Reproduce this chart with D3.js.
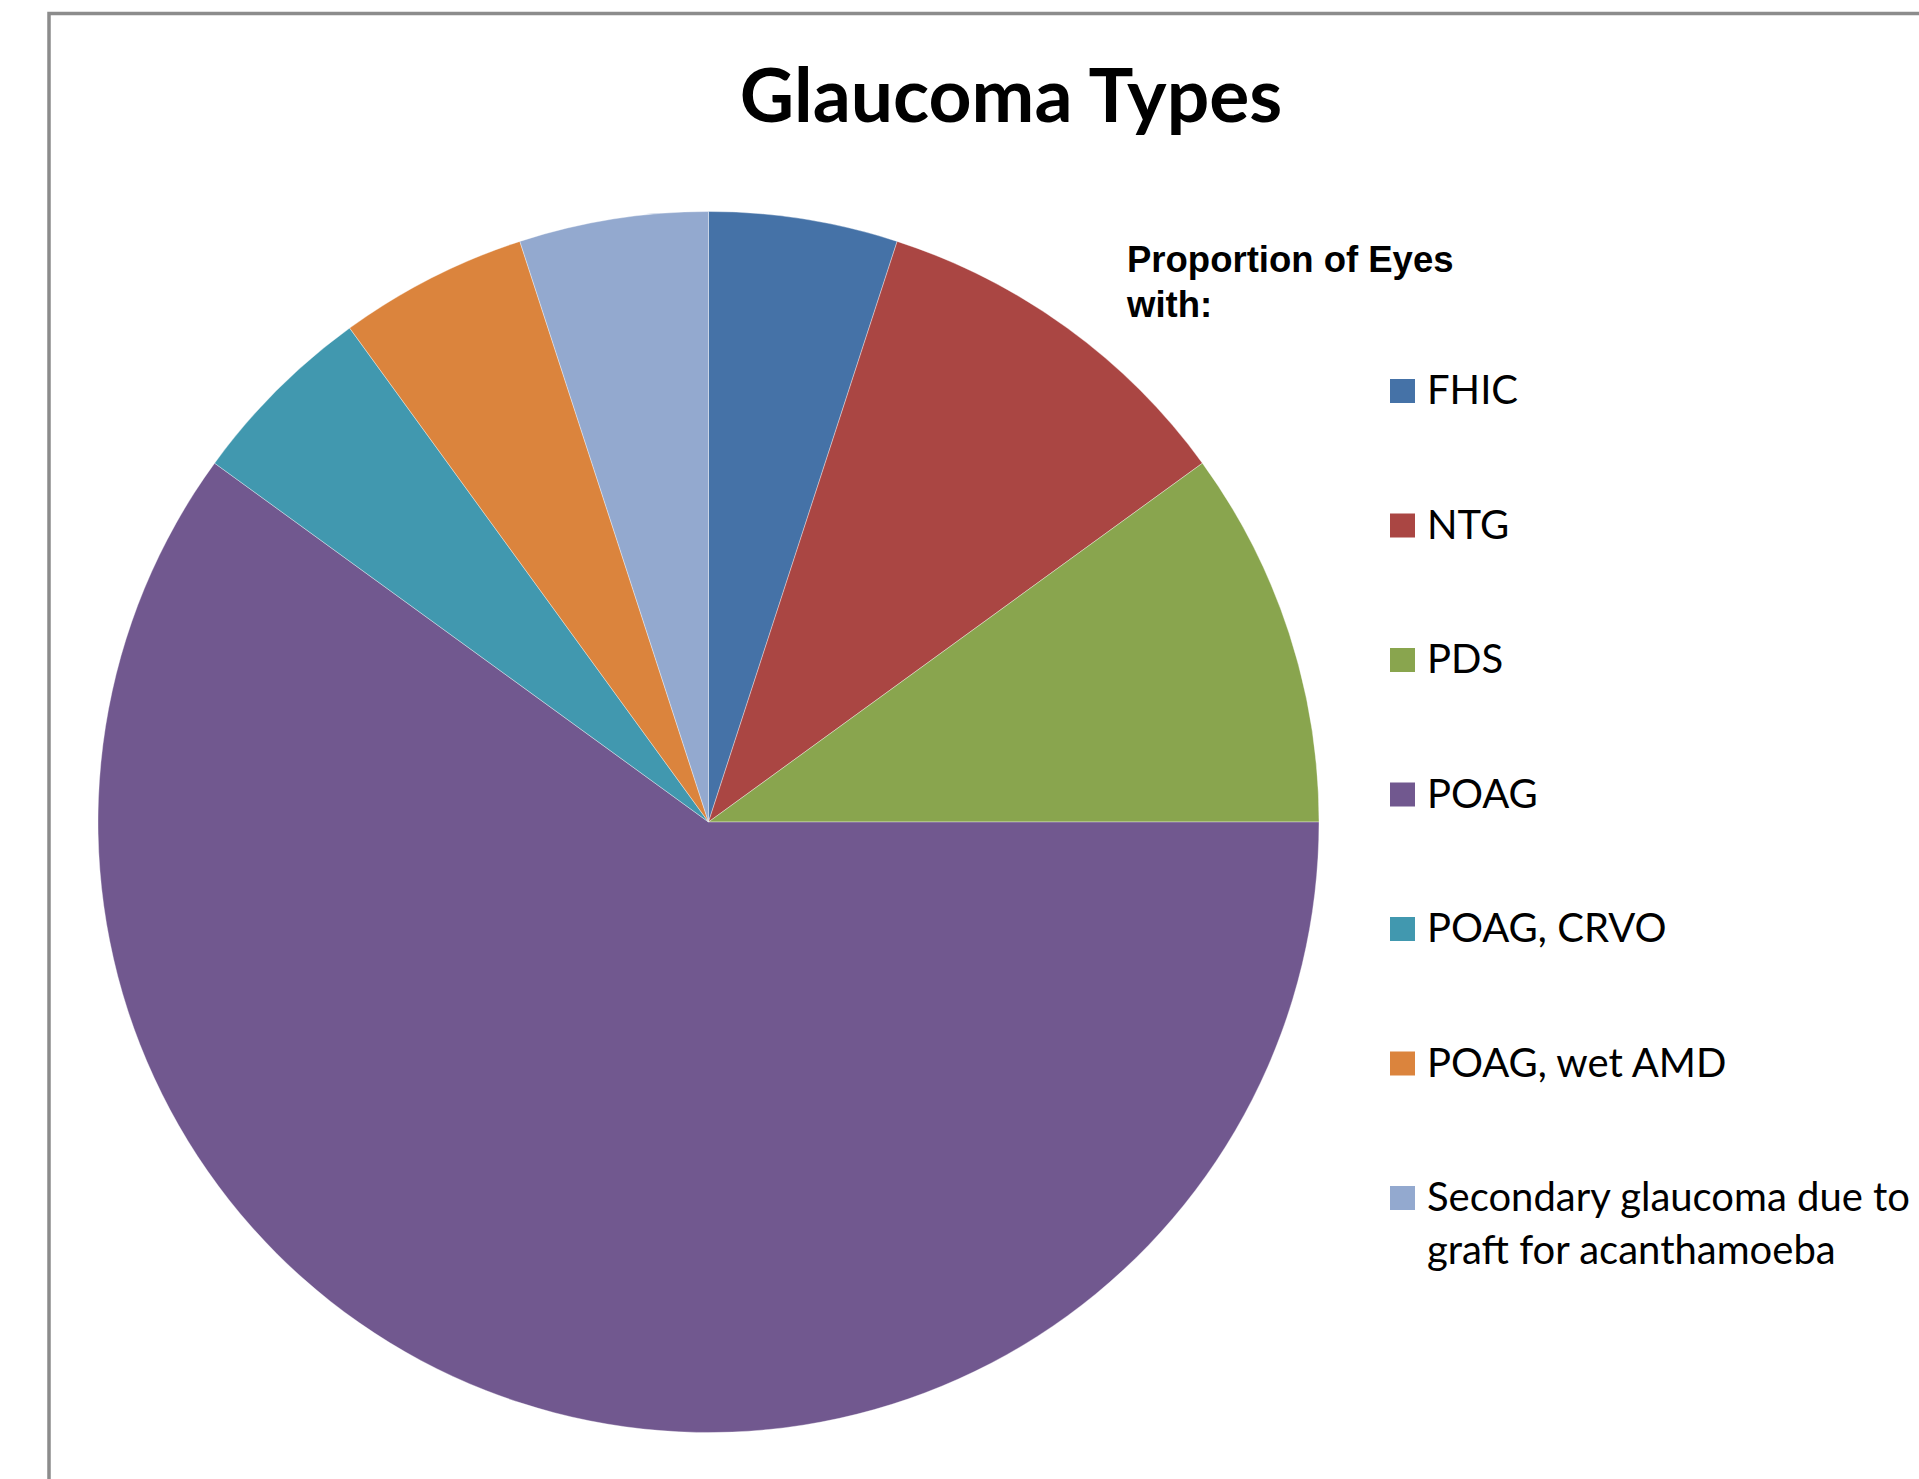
<!DOCTYPE html>
<html>
<head>
<meta charset="utf-8">
<script src="https://cdn.jsdelivr.net/npm/d3@7"></script>
<style>
	html, body { margin:0; padding:0; background:#fff; overflow:hidden; }
	svg { display:block; }
</style>
</head>
<body>
<svg id="chart"></svg>
<script>
// data
var categories = ["FHIC", "NTG", "PDS", "POAG", "POAG, CRVO", "POAG, wet AMD",
	"Secondary glaucoma due to graft for acanthamoeba"];
var eyes = [1, 2, 2, 12, 1, 1, 1];
var colors = ["#4572A7", "#AA4643", "#89A54E", "#71588F", "#4198AF", "#DB843D", "#93A9CF"];
// legend label lines (last one wraps)
var labelLines = [["FHIC"], ["NTG"], ["PDS"], ["POAG"], ["POAG, CRVO"], ["POAG, wet AMD"],
	["Secondary glaucoma due to", "graft for acanthamoeba"]];

var W = 1919, H = 1479;
var svg = d3.select("#chart").attr("width", W).attr("height", H);

// frame
svg.append("rect")
	.attr("x", 49).attr("y", 13.5)
	.attr("width", W).attr("height", H)
	.attr("fill", "#fff").attr("stroke", "#8c8c8c").attr("stroke-width", 3.5);

// title
svg.append("text")
	.attr("x", 1011).attr("y", 122)
	.attr("text-anchor", "middle")
	.attr("font-family", "Lato, 'Open Sans', sans-serif")
	.attr("font-weight", 700)
	.attr("font-size", 75)
	.attr("fill", "#000")
	.text("Glaucoma Types");

// pie
var cx = 708.5, cy = 822, r = 610.5;
var pie = d3.pie().sort(null).value(function(d){ return d; });
var arc = d3.arc().innerRadius(0).outerRadius(r);
var g = svg.append("g").attr("transform", "translate(" + cx + "," + cy + ")");
g.selectAll("path").data(pie(eyes)).enter().append("path")
	.attr("d", arc)
	.attr("fill", function(d, i){ return colors[i]; })
	.attr("stroke", "rgba(255,255,255,0.35)")
	.attr("stroke-width", 1);

// legend title
var lt = svg.append("text")
	.attr("font-family", "Liberation Sans, Arial, sans-serif")
	.attr("font-weight", 700)
	.attr("font-size", 36.5)
	.attr("fill", "#000");
lt.append("tspan").attr("x", 1127).attr("y", 272).text("Proportion of Eyes");
lt.append("tspan").attr("x", 1127).attr("y", 317).text("with:");

// legend items
var ly = d3.scalePoint().domain(categories).range([391, 391 + 134.5 * 6]);
var items = svg.selectAll(".leg").data(categories).enter().append("g")
	.attr("class", "leg")
	.attr("transform", function(d){ return "translate(1390," + ly(d) + ")"; });
items.append("rect")
	.attr("x", 0).attr("y", -12)
	.attr("width", 25).attr("height", 24)
	.attr("fill", function(d, i){ return colors[i]; });
items.append("text")
	.attr("font-family", "Lato, 'Open Sans', sans-serif")
	.attr("font-size", 40)
	.attr("fill", "#000")
	.each(function(d, i){
		var t = d3.select(this);
		labelLines[i].forEach(function(s, k){
			t.append("tspan").attr("x", 37).attr("y", 13 + k * 53).text(s);
		});
	});
</script>
</body>
</html>
